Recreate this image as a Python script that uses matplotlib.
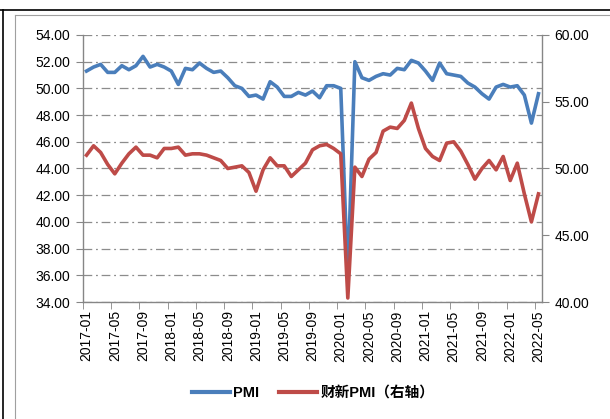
import numpy as np
import matplotlib
matplotlib.use("Agg")
import matplotlib.pyplot as plt
from matplotlib.lines import Line2D

plt.rcParams['font.family'] = ['Liberation Sans', 'Noto Sans CJK SC', 'DejaVu Sans']

months = [f"{y}-{m:02d}" for y in range(2017, 2023) for m in range(1, 13)][:65]

pmi = [51.3, 51.6, 51.8, 51.2, 51.2, 51.7, 51.4, 51.7, 52.4, 51.6, 51.8, 51.6,
       51.3, 50.3, 51.5, 51.4, 51.9, 51.5, 51.2, 51.3, 50.8, 50.2, 50.0, 49.4,
       49.5, 49.2, 50.5, 50.1, 49.4, 49.4, 49.7, 49.5, 49.8, 49.3, 50.2, 50.2,
       50.0, 35.7, 52.0, 50.8, 50.6, 50.9, 51.1, 51.0, 51.5, 51.4, 52.1, 51.9,
       51.3, 50.6, 51.9, 51.1, 51.0, 50.9, 50.4, 50.1, 49.6, 49.2, 50.1, 50.3,
       50.1, 50.2, 49.5, 47.4, 49.6]

caixin = [51.0, 51.7, 51.2, 50.3, 49.6, 50.4, 51.1, 51.6, 51.0, 51.0, 50.8, 51.5,
          51.5, 51.6, 51.0, 51.1, 51.1, 51.0, 50.8, 50.6, 50.0, 50.1, 50.2, 49.7,
          48.3, 49.9, 50.8, 50.2, 50.2, 49.4, 49.9, 50.4, 51.4, 51.7, 51.8, 51.5,
          51.1, 40.3, 50.1, 49.4, 50.7, 51.2, 52.8, 53.1, 53.0, 53.6, 54.9, 53.0,
          51.5, 50.9, 50.6, 51.9, 52.0, 51.3, 50.3, 49.2, 50.0, 50.6, 49.9, 50.9,
          49.1, 50.4, 48.1, 46.0, 48.1]

blue = '#4a7ebb'
red = '#be4b48'
axis_col = '#868686'

fig = plt.figure(figsize=(6.1, 4.19), dpi=100)
# outer frame lines
fig.add_artist(Line2D([0, 1], [1 - 10.5/419, 1 - 10.5/419], color='black', lw=1.2))
fig.add_artist(Line2D([2.5/610, 2.5/610], [0, 1 - 10.5/419], color='black', lw=1.2))
fig.add_artist(Line2D([15/610, 15/610], [0, 1 - 15/419], color='#a0a0a0', lw=0.8))
fig.add_artist(Line2D([15/610, 1], [1 - 15/419, 1 - 15/419], color='#a0a0a0', lw=0.8))

ax = fig.add_axes([83/610, 1 - 302/419, (542 - 83)/610, (302 - 35)/419])
x = np.arange(len(months))
ax.plot(x, pmi, color=blue, lw=2.6, solid_joinstyle='round')
ax.set_ylim(34, 54)
ax.set_yticks(np.arange(34, 55, 2))
ax.set_yticklabels([f"{v:.2f}" for v in np.arange(34, 55, 2)], fontsize=10)
ax.set_xlim(-0.5, len(months) - 0.5)
ax.grid(axis='y', color='#8c8c8c', linestyle=(0, (7, 3, 1.5, 3)), lw=0.9)
ax.set_axisbelow(True)

ax2 = ax.twinx()
ax2.plot(x, caixin, color=red, lw=2.6, solid_joinstyle='round')
ax2.set_ylim(40, 60)
ax2.set_yticks(np.arange(40, 61, 5))
ax2.set_yticklabels([f"{v:.2f}" for v in np.arange(40, 61, 5)], fontsize=10)

label_pos = np.arange(0, len(months), 4)
ax.set_xticks(label_pos)
ax.set_xticklabels([months[i] for i in label_pos], rotation=90, fontsize=10)
ax.tick_params(axis='x', length=0, pad=6)
ax.set_xticks(np.arange(-0.5, len(months), 4), minor=True)
ax.tick_params(axis='x', which='minor', length=5, color=axis_col, direction='out')
ax.tick_params(axis='y', length=5, color=axis_col, pad=4)
ax2.tick_params(axis='y', length=5, color=axis_col, pad=4)

for a in (ax, ax2):
    a.spines['top'].set_visible(False)
    for s in ('left', 'right', 'bottom'):
        a.spines[s].set_color(axis_col)
        a.spines[s].set_linewidth(1.0)
ax.spines['right'].set_visible(False)
ax2.spines['left'].set_visible(False)
ax2.spines['bottom'].set_visible(False)

handles = [Line2D([], [], color=blue, lw=3), Line2D([], [], color=red, lw=3)]
fig.legend(handles, ['PMI', '财新PMI（右轴）'], loc='center', bbox_to_anchor=(313/610, 1 - 393/419),
           ncol=2, frameon=False, handlelength=2.6, handletextpad=0.2, columnspacing=1.4,
           prop={'family': ['Liberation Sans', 'Noto Sans CJK SC'], 'weight': 'bold', 'size': 10.5})

fig.savefig('out.png', dpi=100)
